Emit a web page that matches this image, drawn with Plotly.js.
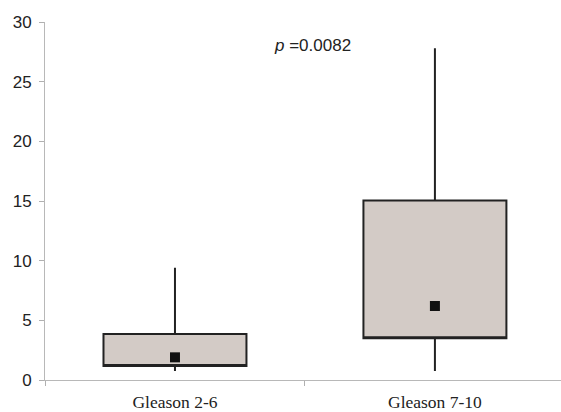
<!DOCTYPE html>
<html>
<head>
<meta charset="utf-8">
<script src="https://cdn.plot.ly/plotly-3.0.1.min.js"></script>
<style>html,body{margin:0;padding:0;background:#fff;}#chart{width:561px;height:412px;}</style>
</head>
<body>
<div id="chart"></div>
<script>
const categories = ["Gleason 2-6", "Gleason 7-10"];
const lowerFence = [0.75, 0.75];
const q1 = [1.17, 3.5];
const q3 = [3.85, 15.05];
const upperFence = [9.4, 27.8];
const medians = [1.9, 6.2];
const yTicks = [0, 5, 10, 15, 20, 25, 30];

const boxTrace = {
  type: "box",
  x: categories,
  q1: q1,
  median: q1,
  q3: q3,
  lowerfence: lowerFence,
  upperfence: upperFence,
  width: 0.55,
  whiskerwidth: 0,
  fillcolor: "#d3cbc6",
  line: {color: "#222222", width: 2},
  boxpoints: false,
  hoverinfo: "skip",
  showlegend: false
};

const medTrace = {
  type: "scatter",
  mode: "markers",
  x: categories,
  y: medians,
  marker: {symbol: "square", size: 10, color: "#111111"},
  showlegend: false,
  hoverinfo: "skip"
};

const layout = {
  width: 561,
  height: 412,
  margin: {l: 45, r: 0, t: 22, b: 32},
  paper_bgcolor: "#ffffff",
  plot_bgcolor: "#ffffff",
  showlegend: false,
  xaxis: {
    type: "category",
    range: [-0.5, 1.485],
    tickson: "boundaries",
    ticks: "outside",
    ticklen: 5,
    tickcolor: "#b0b0b0",
    ticklabelstandoff: 6,
    showline: true,
    linecolor: "#b8b8b8",
    linewidth: 1,
    showgrid: false,
    zeroline: false,
    tickfont: {family: "Liberation Serif, Times New Roman, serif", size: 17.5, color: "#222"}
  },
  xaxis2: {
    overlaying: "x",
    range: [-0.5, 1.485],
    tickvals: [0.5],
    ticks: "inside",
    ticklen: 5,
    tickcolor: "#b0b0b0",
    showticklabels: false,
    showline: false,
    showgrid: false,
    zeroline: false
  },
  yaxis: {
    range: [0, 30],
    tickvals: yTicks,
    ticks: "outside",
    ticklen: 5,
    tickcolor: "#b0b0b0",
    ticklabelstandoff: 4,
    showline: true,
    linecolor: "#b8b8b8",
    linewidth: 1,
    showgrid: false,
    zeroline: false,
    tickfont: {family: "Liberation Sans, Arial, sans-serif", size: 17, color: "#222"}
  },
  yaxis2: {
    overlaying: "y",
    range: [0, 30],
    tickvals: yTicks,
    ticks: "inside",
    ticklen: 5,
    tickcolor: "#b0b0b0",
    showticklabels: false,
    showline: false,
    showgrid: false,
    zeroline: false
  },
  annotations: [{
    xref: "x", yref: "y",
    x: 0.53, y: 28.0,
    text: "<i>p</i> =0.0082",
    showarrow: false,
    xanchor: "center",
    font: {family: "Liberation Sans, Arial, sans-serif", size: 17, color: "#222"}
  }]
};

Plotly.newPlot("chart", [boxTrace, medTrace], layout, {displayModeBar: false, staticPlot: true});
</script>
</body>
</html>
